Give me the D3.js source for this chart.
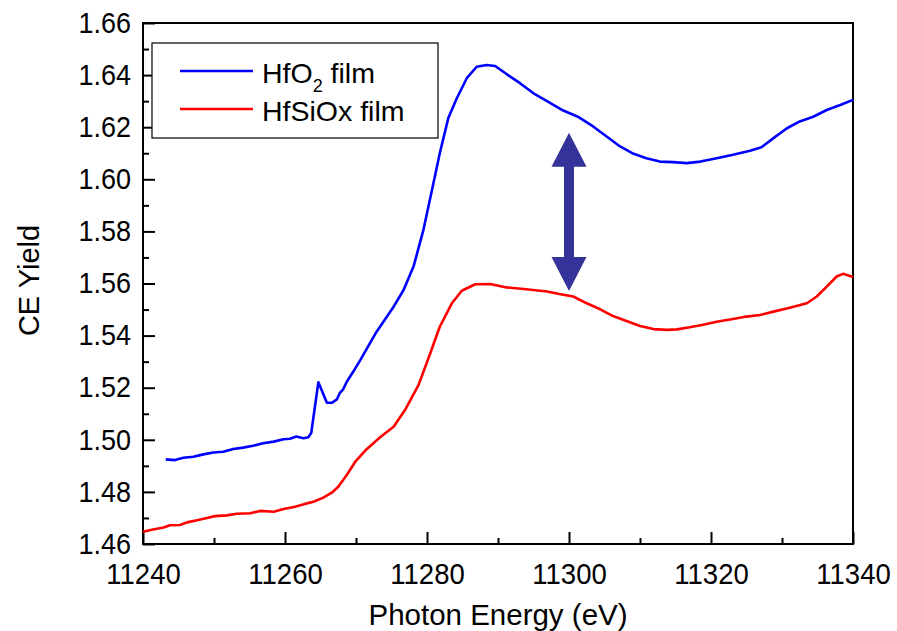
<!DOCTYPE html>
<html>
<head>
<meta charset="utf-8">
<script src="https://cdn.jsdelivr.net/npm/d3@7"></script>
<style>
  body { margin: 0; background: #fff; }
  text { font-family: "Liberation Sans", Arial, sans-serif; fill: #000; }
</style>
</head>
<body>
<svg id="chart" width="897" height="631"></svg>
<script>
// values
const hfo2Energy = [11243.2, 11244.5, 11245.7, 11247.1, 11248.5, 11249.9, 11251.3, 11252.7, 11254.1, 11255.5,
  11256.9, 11258.4, 11259.8, 11260.7, 11261.6, 11262.6, 11263.3, 11263.7, 11264.7, 11265.9,
  11266.6, 11267.3, 11267.7, 11268.2, 11268.7, 11269.6, 11270.6, 11272.9, 11275.3, 11276.7,
  11278.1, 11279.5, 11280.7, 11281.8, 11283.0, 11284.2, 11285.6, 11287.0, 11288.4, 11289.6,
  11291.2, 11293.1, 11295.0, 11296.9, 11299.2, 11301.4, 11303.4, 11305.3, 11307.2, 11309.1,
  11310.9, 11312.8, 11314.7, 11316.6, 11318.5, 11320.8, 11323.1, 11325.5, 11327.1, 11328.8,
  11330.7, 11332.5, 11334.4, 11336.3, 11338.2, 11340.0];
const hfo2Yield = [1.4925, 1.4922, 1.4931, 1.4935, 1.4944, 1.4951, 1.4954, 1.4965, 1.4970, 1.4977,
  1.4987, 1.4993, 1.5002, 1.5004, 1.5013, 1.5006, 1.5010, 1.5027, 1.5221, 1.5142,
  1.5142, 1.5155, 1.5179, 1.5194, 1.5223, 1.5261, 1.5306, 1.5415, 1.5511, 1.5575,
  1.5665, 1.5806, 1.5959, 1.6100, 1.6235, 1.6311, 1.6388, 1.6432, 1.6439, 1.6435,
  1.6404, 1.6369, 1.6330, 1.6300, 1.6264, 1.6238, 1.6203, 1.6164, 1.6126, 1.6098,
  1.6081, 1.6068, 1.6066, 1.6062, 1.6068, 1.6081, 1.6094, 1.6110, 1.6123, 1.6158,
  1.6196, 1.6222, 1.6240, 1.6266, 1.6285, 1.6305];

const hfsioxEnergy = [11240.0, 11241.4, 11242.9, 11243.8, 11245.2, 11246.2, 11247.6, 11249.0, 11250.1, 11251.8,
  11253.2, 11255.1, 11256.5, 11258.4, 11259.8, 11261.4, 11262.8, 11264.0, 11265.4, 11266.6,
  11267.5, 11268.7, 11269.9, 11271.5, 11273.4, 11275.3, 11276.9, 11278.8, 11280.5, 11281.8,
  11283.5, 11284.9, 11286.8, 11288.9, 11291.2, 11294.0, 11296.9, 11299.0, 11300.6, 11302.5,
  11304.4, 11306.2, 11308.1, 11310.0, 11311.9, 11313.8, 11315.2, 11317.0, 11318.9, 11320.8,
  11323.1, 11325.0, 11326.9, 11328.8, 11331.1, 11333.5, 11334.9, 11336.3, 11337.7, 11338.6,
  11340.0];
const hfsioxYield = [1.4647, 1.4656, 1.4663, 1.4672, 1.4673, 1.4683, 1.4691, 1.4700, 1.4707, 1.4710,
  1.4716, 1.4718, 1.4727, 1.4724, 1.4734, 1.4743, 1.4754, 1.4762, 1.4778, 1.4797,
  1.4820, 1.4865, 1.4916, 1.4964, 1.5010, 1.5050, 1.5114, 1.5210, 1.5335, 1.5434,
  1.5524, 1.5572, 1.5597, 1.5598, 1.5585, 1.5578, 1.5569, 1.5558, 1.5550, 1.5524,
  1.5501, 1.5475, 1.5456, 1.5437, 1.5425, 1.5422, 1.5424, 1.5432, 1.5442, 1.5453,
  1.5464, 1.5473, 1.5479, 1.5492, 1.5507, 1.5524, 1.5550, 1.5588, 1.5627, 1.5637,
  1.5625];

const xTicks = [11240, 11260, 11280, 11300, 11320, 11340];
const yTicks = [1.46, 1.48, 1.50, 1.52, 1.54, 1.56, 1.58, 1.60, 1.62, 1.64, 1.66];
const seriesNames = ["HfO2 film", "HfSiOx film"];
const seriesColors = ["#0000ff", "#ff0000"];
// double arrow between the two curves
const arrowEnergy = 11300;
const arrowYield = [1.5571, 1.6179];

const width = 897, height = 631;
const margin = {top: 23, right: 44, bottom: 87, left: 143};
const iw = width - margin.left - margin.right;
const ih = height - margin.top - margin.bottom;

const svg = d3.select("#chart");
const g = svg.append("g").attr("transform", `translate(${margin.left},${margin.top})`);

const x = d3.scaleLinear().domain([11240, 11340]).range([0, iw]);
const y = d3.scaleLinear().domain([1.46, 1.66]).range([ih, 0]);

// minor ticks, inward
const minorX = d3.range(11250, 11340, 20);
const minorY = d3.range(1.47, 1.66, 0.02);

const xAxis = g.append("g").attr("transform", `translate(0,${ih})`)
  .call(d3.axisBottom(x).tickValues(xTicks).tickSize(-12).tickPadding(19).tickFormat(d3.format("d")));
g.append("g").attr("transform", `translate(0,${ih})`)
  .call(d3.axisBottom(x).tickValues(minorX).tickSize(-6).tickFormat(""));
const yAxis = g.append("g")
  .call(d3.axisLeft(y).tickValues(yTicks).tickSize(-12).tickPadding(13).tickFormat(d3.format(".2f")));
g.append("g")
  .call(d3.axisLeft(y).tickValues(minorY).tickSize(-6).tickFormat(""));

g.selectAll(".domain").remove();
g.selectAll(".tick line").attr("stroke", "#000").attr("stroke-width", 2);
// labels in the reference are a bit narrow and tall
xAxis.selectAll("text").attr("font-size", 29).attr("dy", "0.71em").attr("transform", "scale(0.95,1)");
yAxis.selectAll("text").attr("font-size", 29).attr("transform", "scale(0.93,1)");

// frame
g.append("rect").attr("x", 0).attr("y", 0).attr("width", iw).attr("height", ih)
  .attr("fill", "none").attr("stroke", "#000").attr("stroke-width", 2);

// curves
const line = d3.line().x(d => x(d[0])).y(d => y(d[1]));
const series = [d3.zip(hfo2Energy, hfo2Yield), d3.zip(hfsioxEnergy, hfsioxYield)];
series.forEach((s, i) => {
  g.append("path").datum(s)
    .attr("d", line)
    .attr("fill", "none")
    .attr("stroke", seriesColors[i])
    .attr("stroke-width", 2.6)
    .attr("stroke-linejoin", "round");
});

// arrow
const ax = x(arrowEnergy), yb = y(arrowYield[0]), yt = y(arrowYield[1]);
const hw = 17.5, hh = 34, sw = 5;
g.append("path")
  .attr("d", `M${ax},${yt} L${ax + hw},${yt + hh} L${ax + sw},${yt + hh} L${ax + sw},${yb - hh}
    L${ax + hw},${yb - hh} L${ax},${yb} L${ax - hw},${yb - hh} L${ax - sw},${yb - hh}
    L${ax - sw},${yt + hh} L${ax - hw},${yt + hh} Z`)
  .attr("fill", "#333399");

// legend
const legend = svg.append("g");
legend.append("rect").attr("x", 152).attr("y", 43).attr("width", 286).attr("height", 95)
  .attr("fill", "#fff").attr("stroke", "#000").attr("stroke-width", 1.2);
seriesNames.forEach((name, i) => {
  const ly = 71 + i * 38;
  legend.append("line").attr("x1", 180).attr("x2", 253).attr("y1", ly).attr("y2", ly)
    .attr("stroke", seriesColors[i]).attr("stroke-width", 2.6);
  const t = legend.append("text").attr("x", 262).attr("y", ly + 12).attr("font-size", 28.5);
  if (i === 0) {
    t.append("tspan").text("HfO");
    t.append("tspan").attr("font-size", 18).attr("dy", 9).text("2");
    t.append("tspan").attr("dy", -9).text(" film");
  } else {
    t.text(name);
  }
});

// axis titles
svg.append("text").attr("x", margin.left + iw / 2).attr("y", 625)
  .attr("text-anchor", "middle").attr("font-size", 29.5).text("Photon Energy (eV)");
svg.append("text").attr("transform", `translate(39,${margin.top + ih / 2 - 3}) rotate(-90)`)
  .attr("text-anchor", "middle").attr("font-size", 29).text("CE Yield");
</script>
</body>
</html>
